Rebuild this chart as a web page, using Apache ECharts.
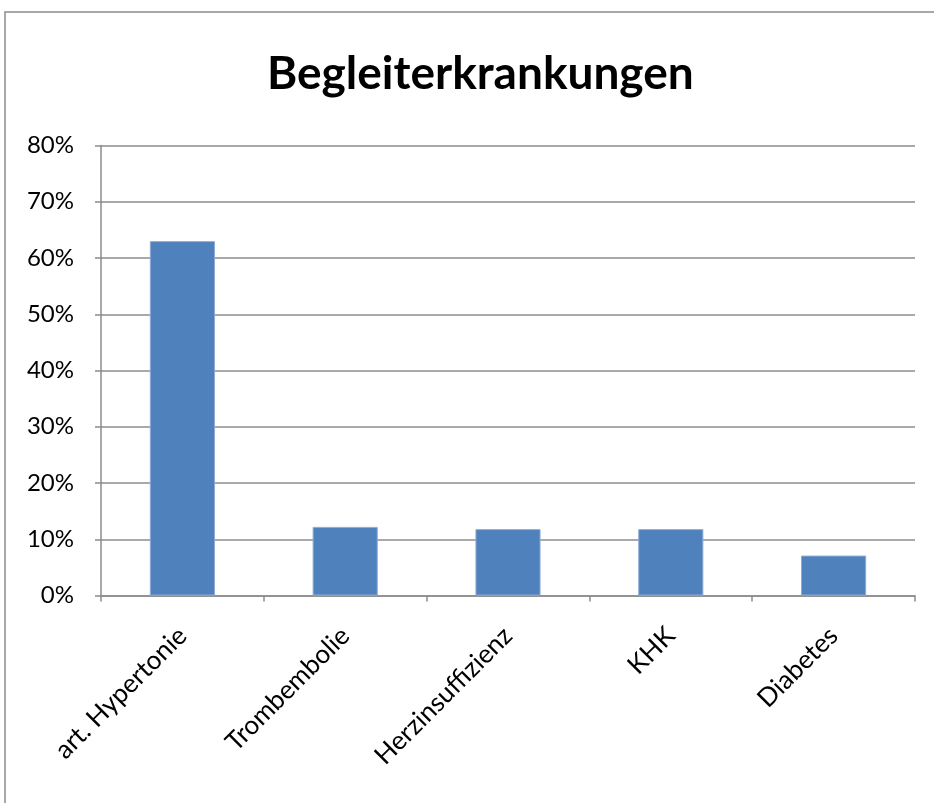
<!DOCTYPE html>
<html>
<head>
<meta charset="utf-8">
<script src="https://cdn.jsdelivr.net/npm/echarts@6/dist/echarts.min.js"></script>
<style>
html,body{margin:0;padding:0;background:#fff;}
#chart{width:934px;height:803px;}
</style>
</head>
<body>
<div id="chart"></div>
<script>
const titleText = 'Begleiterkrankungen';
const categories = ['art. Hypertonie', 'Trombembolie', 'Herzinsuffizienz', 'KHK', 'Diabetes'];
const values = [63.0, 12.2, 11.8, 11.8, 7.1];
const yTicks = [0, 10, 20, 30, 40, 50, 60, 70, 80];

const chart = echarts.init(document.getElementById('chart'), null, {renderer: 'canvas'});
const FONT = 'Lato';
chart.setOption({
  backgroundColor: '#ffffff',
  animation: false,
  graphic: [{
    type: 'rect',
    shape: {x: 5, y: 12, width: 1200, height: 1200},
    style: {fill: 'none', stroke: '#8c8c8c', lineWidth: 1.5},
    silent: true
  }],
  title: {
    text: titleText,
    left: 262,
    top: 46,
    textStyle: {fontFamily: FONT, fontWeight: 'bold', fontSize: 46, color: '#000'}
  },
  grid: {left: 101, right: 19, top: 145.5, bottom: 207.5, containLabel: false},
  xAxis: {
    type: 'category',
    data: categories,
    axisLine: {show: true, lineStyle: {color: '#8c8c8c', width: 1.5}},
    axisTick: {show: true, length: 6, alignWithLabel: false, lineStyle: {color: '#8c8c8c', width: 1.5}},
    axisLabel: {rotate: 45, margin: 36, fontFamily: FONT, fontSize: 26, color: '#000', interval: 0},
    splitLine: {show: false}
  },
  yAxis: {
    type: 'value',
    min: yTicks[0],
    max: yTicks[yTicks.length - 1],
    interval: 10,
    axisLine: {show: true, lineStyle: {color: '#8c8c8c', width: 1.5}},
    axisTick: {show: true, length: 6, lineStyle: {color: '#8c8c8c', width: 1.5}},
    axisLabel: {margin: 27, fontFamily: FONT, fontSize: 24, color: '#000', formatter: v => v + '%'},
    splitLine: {show: true, lineStyle: {color: '#8c8c8c', width: 1.5}}
  },
  series: [{
    type: 'bar',
    data: values,
    barWidth: '40%',
    itemStyle: {color: '#4F81BD', borderColor: '#8eaad6', borderWidth: 1}
  }]
});
</script>
</body>
</html>
